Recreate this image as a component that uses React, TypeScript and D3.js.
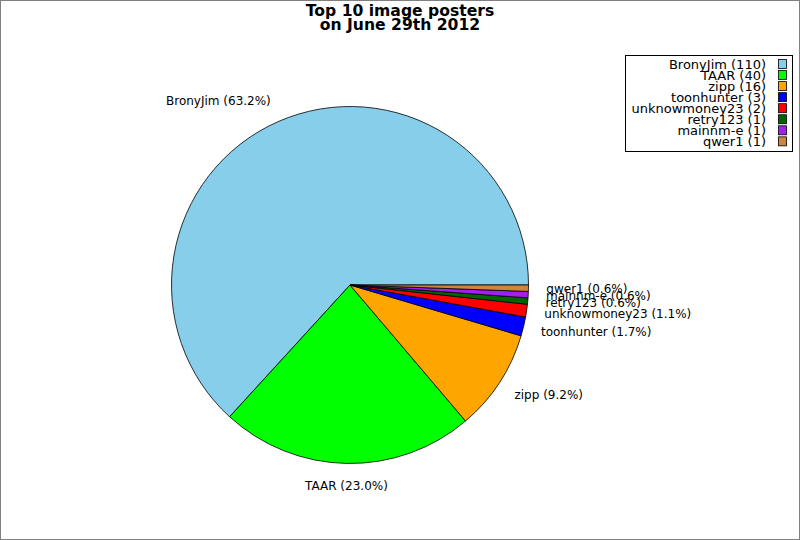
import React from "react";
import * as d3 from "d3";

const posters = ["BronyJim", "TAAR", "zipp", "toonhunter", "unknowmoney23", "retry123", "mainnm-e", "qwer1"];
const imageCounts = [110, 40, 16, 3, 2, 1, 1, 1];
const sliceColors = ["#87ceeb", "#00ff00", "#ffa500", "#0000ff", "#ff0000", "#006400", "#a020f0", "#cd853f"];
const titleLines = ["Top 10 image posters", "on June 29th 2012"];

const W = 800;
const H = 540;
const FONT = "DejaVu Sans, sans-serif";

type Slice = { name: string; count: number; color: string };

export default function App() {
    const data: Slice[] = posters.map((name, i) => ({ name, count: imageCounts[i], color: sliceColors[i] }));
    const total = d3.sum(imageCounts);

    const cx = 350;
    const cy = 285;
    const radius = 178.5;

    // counter-clockwise from 3 o'clock, like the original
    const pie = d3.pie<Slice>()
        .value(d => d.count)
        .sort(null)
        .startAngle(Math.PI / 2)
        .endAngle(Math.PI / 2 - 2 * Math.PI);
    const arcs = pie(data);
    const arc = d3.arc<d3.PieArcDatum<Slice>>().innerRadius(0).outerRadius(radius);

    const legendX = 625;
    const legendY = 55;
    const rowH = 11.05;

    return (
        <div style={{ position: "fixed", left: 0, top: 0 }}>
            <svg width={W} height={H} style={{ display: "block", fontFamily: FONT }}>
                <rect x={0.5} y={0.5} width={W - 1} height={H - 1} fill="#fff" stroke="#808080" />
                {titleLines.map((t, i) => (
                    <text key={t} x={400} y={11 + i * 14} dy="0.35em" textAnchor="middle"
                        fontSize={15.6} fontWeight="bold" fill="#000">{t}</text>
                ))}
                <g transform={`translate(${cx},${cy})`}>
                    {arcs.map(a => (
                        <path key={a.data.name} d={arc(a) ?? ""} fill={a.data.color}
                            stroke="#000" strokeWidth={0.8} strokeLinejoin="round" />
                    ))}
                    {arcs.map(a => {
                        const mid = (a.startAngle + a.endAngle) / 2;
                        const x = radius * 1.1 * Math.sin(mid);
                        const y = -radius * 1.125 * Math.cos(mid);
                        const anchor = Math.abs(x) < 10 ? "middle" : x > 0 ? "start" : "end";
                        const pct = (a.data.count / total * 100).toFixed(1);
                        return (
                            <text key={a.data.name} x={x} y={y} dy="0.35em" textAnchor={anchor}
                                fontSize={12} fill="#000">{`${a.data.name} (${pct}%)`}</text>
                        );
                    })}
                </g>
                <g>
                    <rect x={legendX + 0.5} y={legendY + 0.5} width={167} height={96}
                        fill="#fff" stroke="#000" />
                    {data.map((d, i) => {
                        const y = legendY + 9 + i * rowH;
                        return (
                            <g key={d.name}>
                                <text x={766} y={y} dy="0.35em" textAnchor="end" fontSize={13} fill="#000">
                                    {`${d.name} (${d.count})`}
                                </text>
                                <rect x={778.5} y={y - 4.5} width={8} height={9} fill={d.color}
                                    stroke="#000" strokeWidth={0.8} />
                            </g>
                        );
                    })}
                </g>
            </svg>
        </div>
    );
}
